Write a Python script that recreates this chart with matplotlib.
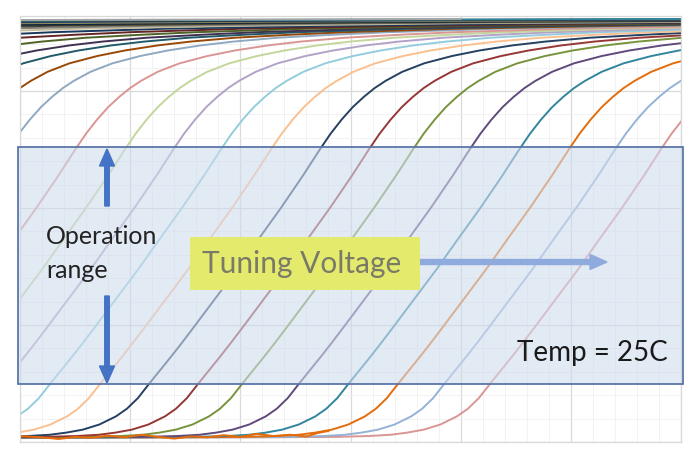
import matplotlib
matplotlib.use("Agg")
import matplotlib.pyplot as plt
import numpy as np
from matplotlib.ticker import MultipleLocator
from matplotlib.patches import Rectangle, FancyArrow

# base transfer curve shape, shifted for every tuning step
# (dx relative to the point where the curve leaves the bottom of the operation range)
dx_profile = [-80, -20, -14, -11, -9, -7.5, -6, -4.5, -3, -2, -1, 0, 1, 2, 3, 4, 6, 8,
              10, 12, 14, 15.5, 16.5, 17.5, 18.5, 19.5, 20.5, 21.5, 23, 25, 27.5, 30,
              33, 36, 40, 45, 50, 60, 75, 95, 120, 150, 200]
y_profile = [0.010, 0.011, 0.012, 0.014, 0.017, 0.022, 0.029, 0.041, 0.060, 0.078,
             0.103, 0.136, 0.168, 0.200, 0.233, 0.267, 0.336, 0.405, 0.478, 0.550,
             0.626, 0.686, 0.724, 0.757, 0.786, 0.810, 0.831, 0.848, 0.869, 0.889,
             0.906, 0.919, 0.931, 0.940, 0.949, 0.956, 0.962, 0.970, 0.977, 0.983,
             0.987, 0.990, 0.993]

# curve offsets (voltage units) and Excel-like series colours
offsets = [42.65, 38.5, 34.3, 29.8, 25.3, 20.15, 16.15, 11.7, 7.26, 2.72,
           -1.6, -6.0, -10.5, -16.6,
           -20.5, -24.7, -28.5, -34, -40, -47, -55, -63, -72, -82, -95, -110,
           -125, -140, -160]
colors = ['#D99694', '#95B3D7', '#E46C0A', '#31859C', '#604A7B', '#77933C',
          '#953735', '#254061', '#FAC090', '#93CDDD',
          '#B3A2C7', '#C3D69B', '#D99694', '#8EA9C1',
          '#984807', '#215968', '#3F3151', '#4F6228', '#632523', '#17375E',
          '#C4BD97', '#7F7F7F', '#4A452A', '#0F243E', '#948A54', '#1F497D',
          '#3B2A1E', '#31859C', '#A5A5A5']

# noisy floor of the orange trace at low voltage
floor_x = [0, 2, 3.5, 5, 6.5, 8, 9.5, 11, 12.5, 14, 15.5, 17, 18.5, 20, 21.5, 23,
           24.5, 26, 27, 28]
floor_y = [0.014, 0.011, 0.007, 0.012, 0.010, 0.015, 0.011, 0.017, 0.012, 0.008,
           0.013, 0.011, 0.016, 0.012, 0.019, 0.014, 0.017, 0.013, 0.021, 0.026]

fig = plt.figure(figsize=(6.99, 4.62), dpi=100)
ax = fig.add_axes([20/699, 20/462, 661/699, 426/462])

dxp = np.array(dx_profile)
yp = np.array(y_profile)
for off, c in zip(offsets, colors):
    ax.plot(dxp + off, yp, color=c, lw=1.4, solid_joinstyle='round')
ax.plot(floor_x, floor_y, color='#E46C0A', lw=1.4, solid_joinstyle='round')

ax.set_xlim(0, 60)
ax.set_ylim(0, 1)
ax.xaxis.set_major_locator(MultipleLocator(10))
ax.xaxis.set_minor_locator(MultipleLocator(2))
ax.yaxis.set_major_locator(MultipleLocator(0.2746))
ax.yaxis.set_minor_locator(MultipleLocator(0.05492))
ax.grid(which='major', color='#d9d9d9', lw=0.9)
ax.grid(which='minor', color='#f0f0f0', lw=0.6)
ax.tick_params(which='both', length=0, labelleft=False, labelbottom=False)
ax.set_axisbelow(True)
for s in ax.spines.values():
    s.set_color('#d9d9d9')
    s.set_linewidth(0.9)

# overlay drawn in figure pixel coordinates
W, H = 699.0, 462.0
def fx(px):
    return px / W
def fy(py):
    return 1 - py / H

# operation range box
fig.patches.append(Rectangle((fx(18), fy(384)), (683-18)/W, (384-147)/H,
                             transform=fig.transFigure, facecolor='#d0dcee',
                             alpha=0.6, edgecolor='none', zorder=5))
fig.patches.append(Rectangle((fx(18), fy(384)), (683-18)/W, (384-147)/H,
                             transform=fig.transFigure, facecolor='none',
                             edgecolor='#5a76a8', lw=1.3, zorder=6))

# vertical arrows
fig.patches.append(FancyArrow(fx(107), fy(206), 0, (206-149)/H, width=4.5/W,
                              head_width=15/W, head_length=17/H,
                              length_includes_head=True, transform=fig.transFigure,
                              color='#4472C4', zorder=7))
fig.patches.append(FancyArrow(fx(107), fy(296), 0, -(383-296)/H, width=4.5/W,
                              head_width=15/W, head_length=17/H,
                              length_includes_head=True, transform=fig.transFigure,
                              color='#4472C4', zorder=7))
# horizontal arrow
fig.patches.append(FancyArrow(fx(418), fy(262), (607-418)/W, 0, width=5/H,
                              head_width=15/H, head_length=17/W,
                              length_includes_head=True, transform=fig.transFigure,
                              color='#8FAADC', zorder=7))

fig.text(fx(46), fy(237), 'Operation', fontsize=18, family='Lato',
         color='#222222', va='center', ha='left', zorder=8)
fig.text(fx(46), fy(270), 'range', fontsize=18, family='Lato',
         color='#222222', va='center', ha='left', zorder=8)

fig.patches.append(Rectangle((fx(190), fy(290)), (420-190)/W, (290-237)/H,
                             transform=fig.transFigure, facecolor='#E4EA6C',
                             edgecolor='none', zorder=8))
fig.text(fx(302), fy(264), 'Tuning Voltage', fontsize=21.5, family='Lato',
         color='#7A7A68', va='center', ha='center', zorder=9)

fig.text(fx(668), fy(353), 'Temp = 25C', fontsize=20, family='Lato',
         color='#1a1a1a', va='center', ha='right', zorder=9)

fig.savefig('out.png', dpi=100)
